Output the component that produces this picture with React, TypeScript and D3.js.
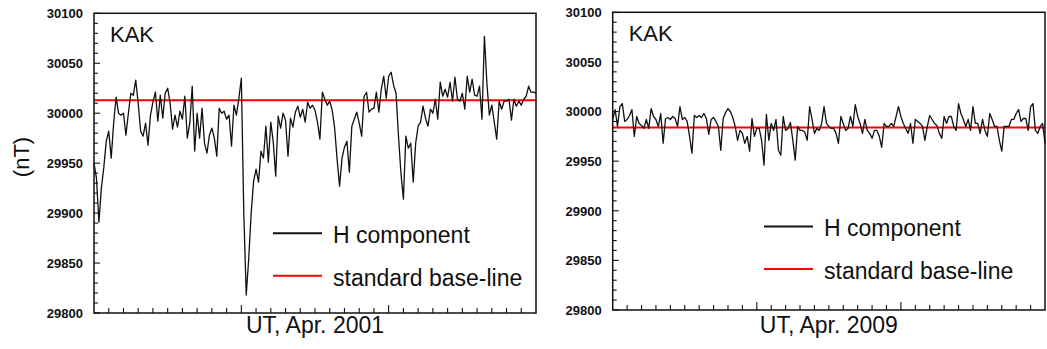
import React, { useEffect, useRef } from "react";
import * as d3 from "d3";

// H component, KAK, 4-hourly values (6 per day), Apr. 2001
const h2001 = [
  29950, 29935, 29891, 29925, 29946, 29972,
  29982, 29955, 29990, 30016, 30000, 29998,
  30000, 29978, 30000, 30020, 30018, 30033,
  30010, 29982, 29977, 29990, 29968, 29998,
  30011, 30021, 29992, 30018, 29995, 30020,
  30025, 30010, 29984, 29998, 29986, 30002,
  29994, 30017, 29975, 29990, 30027, 29962,
  30000, 29975, 30005, 29970, 29960, 29978,
  29985, 29975, 29957, 30005, 30000, 30002,
  29994, 29998, 29967, 30008, 29998, 30015,
  30035, 29900, 29818, 29854, 29900, 29932,
  29944, 29931, 29962, 29955, 29987, 29951,
  29991, 29971, 29937, 29997, 29985, 30000,
  29993, 29957, 29995, 29986, 30001, 30007,
  29996, 30004, 29991, 30011, 30005, 30008,
  30003, 29991, 29974, 30021, 30014, 30008,
  30012, 30003, 29985, 29954, 29927, 29955,
  29966, 29972, 29941, 29987, 29994, 30001,
  29990, 29977, 30017, 30021, 30001, 30004,
  30005, 30021, 30001, 30024, 30037, 30015,
  30037, 30041, 30028, 30020, 29977, 29940,
  29914, 29977, 29965, 29970, 29931, 29970,
  29987, 29991, 30007, 29995, 29987, 30004,
  30000, 30014, 29994, 30031, 30017, 30024,
  30016, 30031, 30012, 30036, 30014, 30012,
  30020, 30004, 30037, 30021, 30034, 30018,
  30017, 30027, 29994, 30077, 30030, 29998,
  30008, 29991, 29974, 30012, 30004, 30012,
  30012, 30014, 29993, 30014, 30007, 30012,
  30008, 30014, 30017, 30027, 30021, 30021,
  30020,
];

// H component, KAK, Apr. 2009
const h2009 = [
  29992, 30002, 29985, 30005, 30008, 29990,
  29992, 29996, 30002, 29975, 29995, 29988,
  29986, 29983, 29992, 29983, 30003, 29995,
  29992, 29985, 29998, 29968, 29993, 29994,
  29992, 29995, 29993, 29985, 30005, 29992,
  29994, 29990, 29975, 29958, 29996, 29994,
  29996, 29994, 29998, 29993, 29977, 29992,
  29994, 29990, 29985, 29961, 29993, 29999,
  30003, 30000, 29994, 29985, 29971, 29981,
  29978, 29968, 29975, 29960, 29993, 29975,
  29983, 29983, 29971, 29946, 29997, 29971,
  29988, 29981, 29992, 29961, 29956, 29995,
  29981, 29983, 29989, 29971, 29951, 29985,
  29981, 29981, 29979, 29971, 30005, 29992,
  29978, 29983, 29981, 29988, 30005, 29988,
  29985, 29983, 29983, 29978, 29968, 29995,
  29988, 29981, 29983, 29995, 29985, 30007,
  29995, 29988, 29978, 29992, 29981, 29978,
  29973, 29981, 29981, 29975, 29964, 29988,
  29985, 29985, 29988, 29985, 29995, 30005,
  29995, 29988, 29983, 29978, 29988, 29968,
  29992, 29990, 29988, 29985, 29971, 29985,
  29996, 29992, 29988, 29986, 29978, 29973,
  29995, 29988, 29995, 29995, 29985, 29981,
  30008, 29998, 29992, 29985, 29992, 29981,
  30005, 29988, 29988, 29978, 29992, 29981,
  29975, 29998, 29992, 29985, 29985, 29971,
  29960, 29985, 29985, 29985, 29992, 29992,
  29998, 30002, 29990, 29993, 29993, 29981,
  30005, 30008, 29981, 29978, 29985, 29988,
  29968,
];

const baseline2001 = 30013;
const baseline2009 = 29984;
const yTicks = [29800, 29850, 29900, 29950, 30000, 30050, 30100];
const days = 30;
const stationName = "KAK";
const legendLabels = ["H component", "standard base-line"];
const xTitles = ["UT, Apr. 2001", "UT, Apr. 2009"];

const FONT = "'Liberation Sans', Arial, Helvetica, sans-serif";

function drawPanel(svg, cfg) {
  const { left, right, top, bottom, data, base, title, legX, legY } = cfg;
  const g = svg.append("g");

  const x = d3.scaleLinear().domain([0, days]).range([left, right]);
  const y = d3.scaleLinear().domain([29800, 30100]).range([bottom, top]);

  // y ticks, inside the frame: every 10 nT, longer every 50
  g.selectAll(".ytick").data(d3.range(29800, 30101, 10)).join("line").attr("class", "ytick")
    .attr("x1", left).attr("x2", d => left + (d % 50 === 0 ? 6 : 4))
    .attr("y1", d => y(d)).attr("y2", d => y(d))
    .attr("stroke", "#111").attr("stroke-width", 1.1);

  g.selectAll(".ylabel").data(yTicks).join("text").attr("class", "ylabel")
    .attr("x", left - 11).attr("y", d => y(d)).attr("dy", "0.38em").attr("text-anchor", "end")
    .text(d => d3.format("d")(d))
    .attr("font-family", FONT).attr("font-size", 13).attr("font-weight", "bold").attr("fill", "#111");

  // x ticks, one per day, longer every 10 days
  g.selectAll(".xtick").data(d3.range(1, days)).join("line").attr("class", "xtick")
    .attr("x1", d => x(d)).attr("x2", d => x(d))
    .attr("y1", bottom).attr("y2", d => bottom - (d % 10 === 0 ? 8 : 5))
    .attr("stroke", "#111").attr("stroke-width", 1.1);

  const t = data.map((_, i) => (i * days) / (data.length - 1));
  const line = d3.line().x((d, i) => x(t[i])).y(d => y(d));

  g.append("line").attr("x1", left).attr("x2", right).attr("y1", y(base)).attr("y2", y(base))
    .attr("stroke", "#ff0000").attr("stroke-width", 2);

  g.append("path").datum(data).attr("d", line).attr("fill", "none")
    .attr("stroke", "#111").attr("stroke-width", 1.3).attr("stroke-linejoin", "round");

  // frame
  g.append("rect").attr("x", left).attr("y", top).attr("width", right - left).attr("height", bottom - top)
    .attr("fill", "none").attr("stroke", "#111").attr("stroke-width", 1.5);

  g.append("text").attr("x", left + 16).attr("y", top + 29).text(stationName)
    .attr("font-family", FONT).attr("font-size", 22).attr("fill", "#111");

  // legend
  g.append("line").attr("x1", legX).attr("x2", legX + 49).attr("y1", legY).attr("y2", legY)
    .attr("stroke", "#111").attr("stroke-width", 2);
  g.append("text").attr("x", legX + 60).attr("y", legY + 9.5).text(legendLabels[0])
    .attr("font-family", FONT).attr("font-size", 23).attr("fill", "#111");
  g.append("line").attr("x1", legX).attr("x2", legX + 49).attr("y1", legY + 42.5).attr("y2", legY + 42.5)
    .attr("stroke", "#ff0000").attr("stroke-width", 2);
  g.append("text").attr("x", legX + 60).attr("y", legY + 52.5).text(legendLabels[1])
    .attr("font-family", FONT).attr("font-size", 23).attr("fill", "#111");

  g.append("text").attr("x", (left + right) / 2).attr("y", 333).attr("text-anchor", "middle")
    .text(title).attr("font-family", FONT).attr("font-size", 23).attr("fill", "#111");
}

export default function App() {
  const ref = useRef(null);

  useEffect(() => {
    document.body.style.margin = "0";
    const svg = d3.select(ref.current);
    svg.selectAll("*").remove();

    drawPanel(svg, {
      left: 94, right: 536, top: 13.3, bottom: 313,
      data: h2001, base: baseline2001, title: xTitles[0], legX: 273, legY: 233.3,
    });
    drawPanel(svg, {
      left: 612.7, right: 1045, top: 12.3, bottom: 310,
      data: h2009, base: baseline2009, title: xTitles[1], legX: 764, legY: 226.5,
    });

    svg.append("text").attr("transform", "translate(29,157) rotate(-90)")
      .attr("text-anchor", "middle").text("(nT)")
      .attr("font-family", FONT).attr("font-size", 22).attr("fill", "#111");
  }, []);

  return <svg ref={ref} width={1047} height={349} style={{ display: "block", background: "#fff" }} />;
}
